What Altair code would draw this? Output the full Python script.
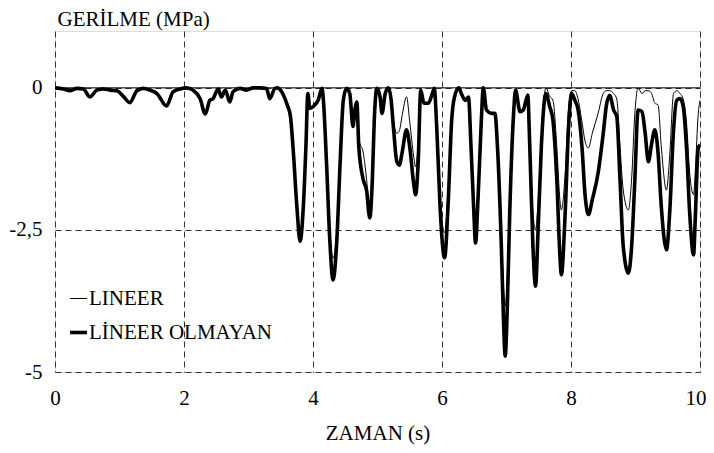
import altair as alt
import pandas as pd

# time (s)
T = [0, 0.13, 0.23, 0.34, 0.44, 0.54, 0.65, 0.75, 0.85, 0.96, 1.06, 1.16, 1.27, 1.37, 1.47, 1.58,
     1.73, 1.83, 1.94, 2.04, 2.14, 2.25, 2.33, 2.40, 2.45, 2.53, 2.58, 2.64, 2.71, 2.76, 2.87, 2.97,
     3.07, 3.18, 3.28, 3.33, 3.41, 3.45, 3.53, 3.60, 3.65, 3.69, 3.75, 3.80, 3.85, 3.89, 3.92, 3.95,
     4.03, 4.08, 4.14, 4.16, 4.21, 4.26, 4.31, 4.37, 4.42, 4.47, 4.52, 4.57, 4.62, 4.65, 4.68, 4.71,
     4.78, 4.83, 4.88, 4.92, 4.95, 4.99, 5.04, 5.07, 5.12, 5.17, 5.21, 5.25, 5.30, 5.34, 5.38, 5.45,
     5.50, 5.56, 5.59, 5.63, 5.67, 5.72, 5.79, 5.85, 5.88, 5.92, 5.97, 6.04, 6.10, 6.15, 6.19, 6.26,
     6.30, 6.36, 6.41, 6.45, 6.49, 6.52, 6.56, 6.61, 6.64, 6.69, 6.77, 6.82, 6.86, 6.92, 6.95, 6.98,
     7.01, 7.05, 7.11, 7.14, 7.21, 7.26, 7.33, 7.36, 7.41, 7.45, 7.49, 7.54, 7.61, 7.67, 7.72, 7.78,
     7.83, 7.85, 7.91, 7.96, 8.01, 8.06, 8.11, 8.17, 8.22, 8.27, 8.33, 8.42, 8.50, 8.55, 8.60, 8.66,
     8.71, 8.76, 8.81, 8.89, 8.94, 8.99, 9.04, 9.10, 9.15, 9.20, 9.25, 9.30, 9.35, 9.40, 9.48, 9.53,
     9.59, 9.64, 9.69, 9.74, 9.79, 9.84, 9.90, 9.93, 9.97, 10.0]

# LİNEER OLMAYAN (thick)
NONLINEAR = [0, -0.02, -0.05, -0.01, -0.02, -0.16, -0.04, -0.02, -0.04, -0.05, -0.15, -0.26, -0.05, -0.01, -0.04, -0.10,
             -0.32, -0.07, -0.02, 0, -0.04, -0.19, -0.46, -0.22, -0.19, -0.02, -0.16, -0.04, -0.25, -0.07, -0.01, -0.04,
             0, 0, -0.01, -0.19, -0.01, 0, -0.10, -0.30, -0.50, -1.04, -2.09, -2.70, -2.09, -1.04, -0.10, -0.36,
             -0.30, -0.22, -0.01, -0.20, -1.33, -2.67, -3.38, -2.67, -1.33, -0.22, -0.01, -0.10, -0.68, -0.39, -0.25, -1.04,
             -1.62, -1.80, -2.29, -1.62, -0.57, -0.01, -0.16, -0.45, -0.10, 0, -0.20, -0.74, -1.30, -1.36, -1.15, -0.74,
             -1.04, -1.68, -1.88, -1.33, -0.04, -0.27, -0.27, -0.10, -0.01, -0.74, -2.09, -2.99, -1.91, -0.57, -0.18, 0,
             -0.10, -0.22, -0.16, -1.04, -2.09, -2.73, -1.91, -0.57, 0, -0.39, -0.45, -0.45, -1.04, -2.79, -3.96, -4.72,
             -3.96, -2.20, -0.45, -0.04, -0.42, -0.39, -0.13, -1.00, -2.79, -3.49, -2.50, -1.04, -0.10, -0.33, -0.57, -1.62,
             -3.00, -3.29, -2.20, -0.74, -0.10, -0.22, -0.39, -1.04, -1.91, -2.23, -1.97, -1.50, -0.80, -0.30, -0.13, -0.39,
             -0.51, -1.62, -2.79, -3.26, -2.79, -1.62, -0.39, -0.42, -0.80, -1.30, -0.98, -0.74, -1.15, -2.09, -2.85, -2.20,
             -0.74, -0.22, -0.19, -0.33, -1.04, -2.20, -2.94, -2.20, -1.09, -1.00]

# LINEER (thin)
LINEAR = [0, -0.02, -0.05, -0.01, -0.02, -0.16, -0.04, -0.02, -0.04, -0.05, -0.15, -0.26, -0.05, -0.01, -0.04, -0.10,
          -0.32, -0.07, -0.02, 0, -0.04, -0.19, -0.46, -0.22, -0.19, -0.02, -0.16, -0.04, -0.25, -0.07, -0.01, -0.04,
          0, 0, -0.01, -0.19, -0.01, 0, -0.10, -0.30, -0.50, -1.04, -2.09, -2.70, -2.09, -1.04, -0.10, -0.36,
          -0.30, -0.22, -0.01, -0.20, -1.25, -2.50, -3.00, -2.50, -1.25, -0.22, -0.01, -0.10, -0.60, -0.39, -0.25, -0.90,
          -1.15, -1.60, -2.20, -1.55, -0.57, -0.01, -0.16, -0.40, -0.10, 0, -0.15, -0.60, -0.80, -0.75, -0.50, -0.16,
          -0.60, -1.20, -1.39, -1.00, -0.04, -0.27, -0.27, -0.10, -0.01, -0.70, -1.90, -2.55, -1.70, -0.57, -0.18, 0,
          -0.10, -0.22, -0.16, -1.00, -1.90, -2.30, -1.70, -0.57, 0, -0.39, -0.45, -0.45, -1.00, -2.50, -3.40, -3.84,
          -3.40, -2.00, -0.45, -0.04, -0.40, -0.35, -0.10, -0.90, -2.20, -2.50, -2.00, -0.90, 0, -0.15, -0.22, -1.04,
          -2.00, -2.15, -1.50, -0.40, -0.05, -0.05, -0.20, -0.60, -0.95, -1.06, -0.80, -0.45, -0.10, -0.05, -0.05, -0.10,
          -0.20, -1.04, -1.80, -2.15, -1.60, -0.45, 0, -0.10, -0.05, -0.05, -0.10, -0.27, -0.30, -1.04, -1.80, -1.20,
          -0.10, -0.05, -0.10, -0.20, -0.60, -1.50, -1.88, -1.40, -0.50, -0.22]

SERIES = ["LINEER", "LİNEER OLMAYAN"]
X_TICKS = [0, 2, 4, 6, 8, 10]
Y_TICKS = [-5, -2.5, 0]
ZERO_LINE = [0]

assert len(T) == len(NONLINEAR) == len(LINEAR), (len(T), len(NONLINEAR), len(LINEAR))

rows = []
for t, a, b in zip(T, LINEAR, NONLINEAR):
    rows.append({"t": t, "v": b, "s": SERIES[1], "o": 0})
    rows.append({"t": t, "v": a, "s": SERIES[0], "o": 1})
df = pd.DataFrame(rows)

FONT = "Liberation Serif"
FS = 21

x = alt.X("t:Q", scale=alt.Scale(domain=[0, 10], nice=False),
          axis=alt.Axis(values=X_TICKS, title="ZAMAN (s)", grid=True, gridDash=[6, 4],
                        gridColor="#333333", gridWidth=1, ticks=False, domain=False,
                        labelFlush=False, labelPadding=15, titlePadding=14,
                        labelAlign={"condition": {"test": "datum.value == 10", "value": "right"},
                                    "value": "center"},
                        labelOffset={"condition": {"test": "datum.value == 10", "value": 6},
                                     "value": 0},
                        labelFont=FONT, labelFontSize=FS, titleFont=FONT, titleFontSize=FS,
                        titleFontWeight="normal", labelColor="black", titleColor="black"))
y = alt.Y("v:Q", scale=alt.Scale(domain=[-5, 1], nice=False, zero=False),
          axis=alt.Axis(values=Y_TICKS, title="GERİLME (MPa)", grid=True, gridDash=[6, 4],
                        gridColor="#333333", gridWidth=1, ticks=False, domain=False,
                        labelExpr="replace(toString(datum.value), '.', ',')",
                        labelPadding=13, labelFont=FONT, labelFontSize=FS,
                        titleFont=FONT, titleFontSize=FS, titleFontWeight="normal",
                        titleAngle=0, titleAlign="left", titleBaseline="alphabetic",
                        titleX=2, titleY=-6, labelColor="black", titleColor="black"))

lines = alt.Chart(df).mark_line(interpolate="monotone", color="black", clip=True).encode(
    x=x, y=y,
    detail="s:N",
    order="o:Q",
    strokeWidth=alt.StrokeWidth(
        "s:N",
        scale=alt.Scale(domain=SERIES, range=[1, 3.6]),
        legend=alt.Legend(title=None, orient="none", legendX=13, legendY=257,
                          symbolType="stroke", symbolSize=289, symbolStrokeColor="black",
                          labelFont=FONT, labelFontSize=FS, labelColor="black", labelLimit=0,
                          labelOffset=0, rowPadding=12, padding=0),
    ),
)

zero = alt.Chart(pd.DataFrame({"z": ZERO_LINE})).mark_rule(color="black", strokeWidth=1).encode(
    y=alt.Y("z:Q", scale=alt.Scale(domain=[-5, 1], nice=False, zero=False))
)

chart = alt.layer(zero, lines).properties(
    width=645, height=341,
    autosize=alt.AutoSizeParams(type="none"),
    padding={"left": 47, "top": 23, "right": 6, "bottom": 81},
).configure_view(stroke="black", strokeWidth=1).configure(background="white")

chart.save("out.html", embed_options={"renderer": "svg", "actions": False})
